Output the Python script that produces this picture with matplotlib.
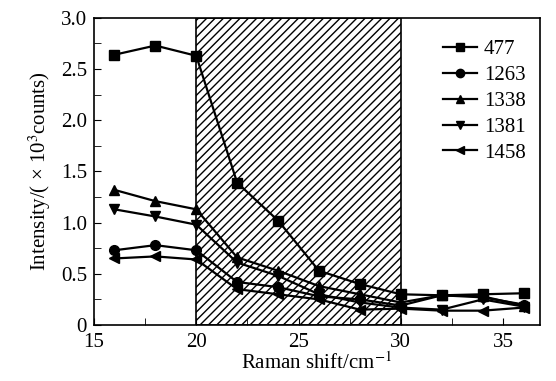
import matplotlib.pyplot as plt
from matplotlib.ticker import MultipleLocator, FuncFormatter

plt.rcParams['font.family'] = ['Liberation Serif', 'DejaVu Serif']
plt.rcParams['mathtext.fontset'] = 'stix'
plt.rcParams['hatch.linewidth'] = 1.0

# Raman shift positions
shift = [16, 18, 20, 22, 24, 26, 28, 30, 32, 34, 36]

# intensities (x10^3 counts) for each band
i477 = [2.64, 2.73, 2.63, 1.39, 1.02, 0.53, 0.40, 0.30, 0.29, 0.30, 0.31]
i1263 = [0.73, 0.78, 0.73, 0.42, 0.37, 0.28, 0.25, 0.19, 0.29, 0.27, 0.20]
i1338 = [1.32, 1.21, 1.13, 0.66, 0.53, 0.38, 0.30, 0.22, 0.29, 0.28, 0.19]
i1381 = [1.13, 1.06, 0.98, 0.61, 0.48, 0.30, 0.22, 0.17, 0.15, 0.25, 0.18]
i1458 = [0.65, 0.67, 0.64, 0.35, 0.30, 0.25, 0.15, 0.16, 0.14, 0.14, 0.17]

labels = ['477', '1263', '1338', '1381', '1458']
markers = ['s', 'o', '^', 'v', '<']
series = [i477, i1263, i1338, i1381, i1458]

fig = plt.figure(figsize=(5.56, 3.81), dpi=100)
ax = fig.add_axes([0.169, 0.147, 0.802, 0.806])

# hatched region 20-30
ax.axvspan(20, 30, facecolor='white', edgecolor='black', hatch='////', linewidth=1.2)

for y, m, lab in zip(series, markers, labels):
    ax.plot(shift, y, color='black', marker=m, markersize=7, linewidth=1.6, label=lab)

ax.set_xlim(15, 36.8)
ax.set_ylim(0, 3.0)
ax.xaxis.set_major_locator(MultipleLocator(5))
ax.xaxis.set_minor_locator(MultipleLocator(2.5))
ax.yaxis.set_major_locator(MultipleLocator(0.5))
ax.yaxis.set_minor_locator(MultipleLocator(0.25))
ax.yaxis.set_major_formatter(FuncFormatter(lambda v, p: '0' if v == 0 else '%.1f' % v))
ax.tick_params(which='both', direction='in', labelsize=15)
ax.tick_params(which='major', length=5)
ax.tick_params(which='minor', length=5)
ax.tick_params(axis='x', pad=6)
ax.tick_params(axis='y', pad=5)
for s in ax.spines.values():
    s.set_linewidth(1.2)

ax.set_xlabel(r'Raman shift/cm$^{-1}$', fontsize=15, labelpad=0)
ax.set_ylabel(r'Intensity/( × 10$^{3}$counts)', fontsize=15, labelpad=6)

leg = ax.legend(loc='upper right', frameon=False, fontsize=15, handlelength=1.6,
                handletextpad=0.35, labelspacing=0.3, bbox_to_anchor=(1.01, 0.99))
for lh in leg.get_lines():
    lh.set_markersize(6)

fig.savefig('out.png', dpi=100)
